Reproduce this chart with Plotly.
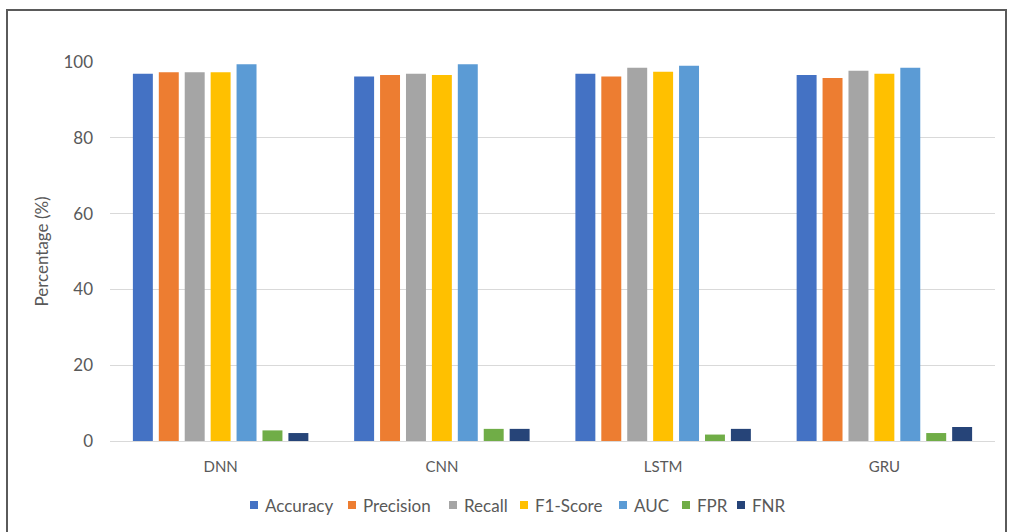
import plotly.graph_objects as go

models = ["DNN", "CNN", "LSTM", "GRU"]
metrics = ["Accuracy", "Precision", "Recall", "F1-Score", "AUC", "FPR", "FNR"]

accuracy = [96.9, 96.2, 96.9, 96.6]
precision = [97.3, 96.6, 96.2, 95.8]
recall = [97.3, 96.9, 98.5, 97.7]
f1_score = [97.3, 96.6, 97.4, 96.9]
auc = [99.4, 99.4, 99.0, 98.5]
fpr = [2.8, 3.2, 1.7, 2.1]
fnr = [2.1, 3.2, 3.2, 3.7]

series = [accuracy, precision, recall, f1_score, auc, fpr, fnr]
colors = ["#4472C4", "#ED7D31", "#A5A5A5", "#FFC000", "#5B9BD5", "#70AD47", "#264478"]

font_family = "Lato, 'Open Sans', sans-serif"
text_color = "#595959"

# plot-area geometry in pixels
W, H = 1011, 532
L, R, T, B = 110, 16, 62, 91
pw, ph = W - L - R, H - T - B


def px_x(x):
    return (x - L) / pw


def px_y(y):
    return (H - B - y) / ph


fig = go.Figure()
for name, vals, col in zip(metrics, series, colors):
    fig.add_trace(go.Bar(name=name, x=models, y=vals, marker_color=col,
                         marker_line_width=0, showlegend=False))

fig.update_layout(
    width=W, height=H,
    margin=dict(l=L, r=R, t=T, b=B),
    paper_bgcolor="white", plot_bgcolor="white",
    barmode="group", bargap=0.18, bargroupgap=0.23,
    font=dict(family=font_family, size=16, color=text_color),
)
fig.update_xaxes(showgrid=False, showline=True, linecolor="#d9d9d9", linewidth=1,
                 ticks="", ticklabelstandoff=12,
                 tickfont=dict(size=15, color=text_color))
fig.update_yaxes(range=[0, 100], dtick=20, showgrid=True, gridcolor="#d9d9d9",
                 zeroline=False, ticks="", ticklabelstandoff=16,
                 tickfont=dict(size=17, color=text_color),
                 title=dict(text="Percentage (%)", standoff=10,
                            font=dict(size=17, color=text_color)))

# legend row below the plot: small colour squares followed by labels
legend_text_x = [263, 361, 462, 533, 632, 695, 750]
legend_y = 505
for name, col, tx in zip(metrics, colors, legend_text_x):
    fig.add_shape(type="rect", xref="paper", yref="paper",
                  x0=px_x(tx - 13), x1=px_x(tx - 5),
                  y0=px_y(legend_y + 4), y1=px_y(legend_y - 4),
                  line=dict(width=0), fillcolor=col)
    fig.add_annotation(xref="paper", yref="paper", x=px_x(tx), y=px_y(legend_y),
                       xanchor="left", yanchor="middle", showarrow=False,
                       text=name, font=dict(size=17, color=text_color))

# outer frame around the chart area
fig.add_shape(type="rect", xref="paper", yref="paper",
              x0=px_x(7), x1=px_x(1006), y0=px_y(560), y1=px_y(10),
              line=dict(color="#5a5a5a", width=2), fillcolor="rgba(0,0,0,0)",
              layer="below")

fig.write_html("out.html")
